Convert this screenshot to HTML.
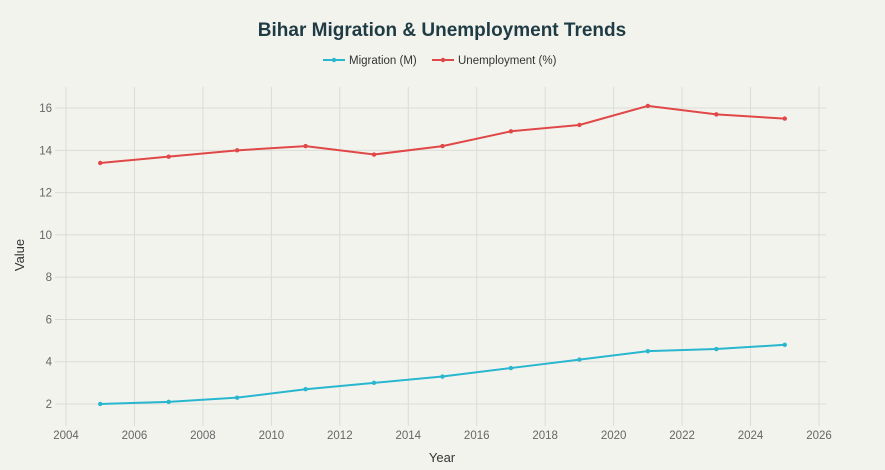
<!DOCTYPE html>
<html><head><meta charset="utf-8"><style>
body{margin:0;background:#f3f3ee;}
svg{display:block;font-family:"Liberation Sans",sans-serif;}
</style></head><body>
<svg id="s" width="885" height="470" xmlns="http://www.w3.org/2000/svg">
<rect width="885" height="470" fill="#f3f3ee"/>
<text x="442" y="36" text-anchor="middle" font-size="19" font-weight="bold" fill="#1f3b44">Bihar Migration &amp; Unemployment Trends</text>
<line x1="323" y1="60" x2="345" y2="60" stroke="#29b6cf" stroke-width="2"/><circle cx="334" cy="60" r="2.2" fill="#29b6cf"/>
<text x="349" y="64" font-size="11.5" fill="#333">Migration (M)</text>
<line x1="432" y1="60" x2="454" y2="60" stroke="#e04848" stroke-width="2"/><circle cx="443" cy="60" r="2.2" fill="#e04848"/>
<text x="458" y="64" font-size="11.5" fill="#333">Unemployment (%)</text>
<g id="g"></g>
<text x="442" y="462" text-anchor="middle" font-size="13" fill="#333">Year</text>
<text transform="translate(24,255) rotate(-90)" text-anchor="middle" font-size="13" fill="#333">Value</text>
</svg>
<script>
var g=document.getElementById('g'),h='';
function X(y){return 66+(y-2004)*34.227;}
function Y(v){return 404-(v-2)*21.14;}
for(var y=2004;y<=2026;y+=2){var x=X(y);h+='<line x1="'+x+'" y1="87" x2="'+x+'" y2="426" stroke="#dcdcd6" stroke-width="1"/>';h+='<text x="'+x+'" y="439" text-anchor="middle" font-size="11.5" fill="#666">'+y+'</text>';}
for(var v=2;v<=16;v+=2){var yy=Y(v);h+='<line x1="55" y1="'+yy+'" x2="826" y2="'+yy+'" stroke="#dcdcd6" stroke-width="1"/>';h+='<text x="52" y="'+(yy+4)+'" text-anchor="end" font-size="11.5" fill="#666">'+v+'</text>';}
var yrs=[2005,2007,2009,2011,2013,2015,2017,2019,2021,2023,2025];
var m=[2.0,2.1,2.3,2.7,3.0,3.3,3.7,4.1,4.5,4.6,4.8];
var u=[13.4,13.7,14.0,14.2,13.8,14.2,14.9,15.2,16.1,15.7,15.5];
function ser(d,c){var p=yrs.map(function(y,i){return X(y)+','+Y(d[i]);}).join(' ');var s='<polyline points="'+p+'" fill="none" stroke="'+c+'" stroke-width="2"/>';yrs.forEach(function(y,i){s+='<circle cx="'+X(y)+'" cy="'+Y(d[i])+'" r="2.2" fill="'+c+'"/>';});return s;}
h+=ser(m,'#29b6cf')+ser(u,'#e04848');
g.innerHTML=h;
</script>
</body></html>
